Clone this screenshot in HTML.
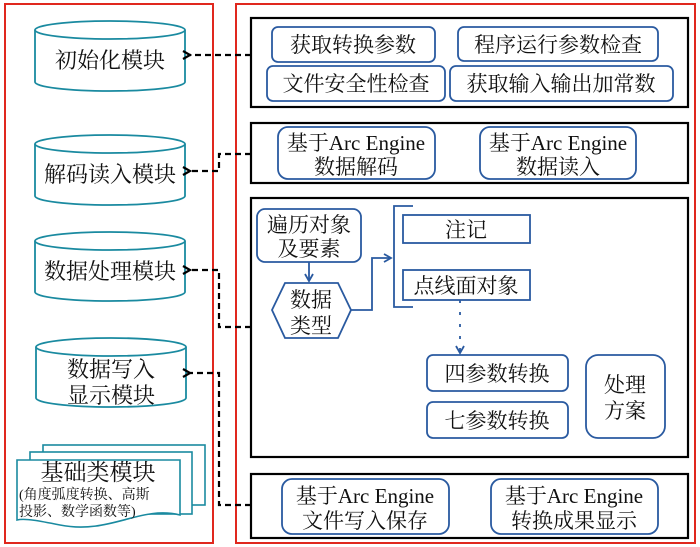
<!DOCTYPE html>
<html><head><meta charset="utf-8"><style>
html,body{margin:0;padding:0;background:#fff;}
svg{display:block;}
text{font-family:"Liberation Serif","Noto Serif CJK SC","WenQuanYi Zen Hei",serif;fill:#111;}
</style></head><body>
<svg width="700" height="547" viewBox="0 0 700 547" xmlns="http://www.w3.org/2000/svg">
<defs>
<marker id="ab" markerWidth="10" markerHeight="10" refX="2" refY="5" orient="auto" markerUnits="userSpaceOnUse">
<path d="M9,1 L2,5 L9,9" fill="none" stroke="#000" stroke-width="2.2"/></marker>
<marker id="bl" markerWidth="10" markerHeight="10" refX="8" refY="5" orient="auto" markerUnits="userSpaceOnUse">
<path d="M1,1 L8,5 L1,9" fill="none" stroke="#2a5aa0" stroke-width="1.8"/></marker>
</defs>
<rect x="5" y="4" width="208" height="539" fill="none" stroke="#e0281e" stroke-width="2"/>
<rect x="236" y="4" width="459" height="539" fill="none" stroke="#e0281e" stroke-width="2"/>

<g fill="#fff" stroke="#1a8aa0" stroke-width="1.8">
<path d="M35,30 V82 A75,9 0 0 0 185,82 V30"/><ellipse cx="110" cy="30" rx="75" ry="9"/>
<path d="M35,144 V196 A75,9 0 0 0 185,196 V144"/><ellipse cx="110" cy="144" rx="75" ry="9"/>
<path d="M35,241 V292 A75,9 0 0 0 185,292 V241"/><ellipse cx="110" cy="241" rx="75" ry="9"/>
<path d="M36,347 V398 A75,9 0 0 0 186,398 V347"/><ellipse cx="111" cy="347" rx="75" ry="9"/>
</g>
<g font-size="22" text-anchor="middle">
<text x="110" y="68">初始化模块</text>
<text x="110" y="182">解码读入模块</text>
<text x="110" y="279">数据处理模块</text>
<text x="111" y="377">数据写入</text>
<text x="111" y="403">显示模块</text>
</g>
<g fill="#fff" stroke="#1a8aa0" stroke-width="1.6">
<rect x="43" y="445" width="162" height="60"/>
<rect x="30" y="452" width="162" height="62"/>
<path d="M17,460 H180 V515 C140,505 110,535 60,525 C40,521 25,518 17,520 Z"/>
</g>
<text x="98" y="480" font-size="23" text-anchor="middle">基础类模块</text>
<text x="19" y="499" font-size="14">(角度弧度转换、高斯</text>
<text x="19" y="516" font-size="14">投影、数学函数等)</text>

<g fill="none" stroke="#000" stroke-width="2.2" stroke-dasharray="6,4">
<path d="M251,55 H190" marker-end="url(#ab)"/>
<path d="M251,154 H219 V171 H190" marker-end="url(#ab)"/>
<path d="M251,327 H219 V270 H190" marker-end="url(#ab)"/>
<path d="M251,505 H219 V373 H190" marker-end="url(#ab)"/>
</g>

<g fill="none" stroke="#000" stroke-width="2.2">
<rect x="251" y="18" width="437" height="89"/>
<rect x="251" y="123" width="437" height="60"/>
<rect x="251" y="198" width="437" height="259"/>
<rect x="251" y="474" width="437" height="64"/>
</g>

<g fill="#fff" stroke="#2a5aa0" stroke-width="1.8">
<rect x="272" y="27" width="163" height="35" rx="6"/>
<rect x="458" y="27" width="200" height="34" rx="6"/>
<rect x="267" y="66" width="178" height="35" rx="6"/>
<rect x="450" y="66" width="223" height="35" rx="6"/>
<rect x="278" y="127" width="157" height="52" rx="10"/>
<rect x="480" y="127" width="156" height="52" rx="10"/>
<rect x="282" y="479" width="167" height="55" rx="10"/>
<rect x="491" y="479" width="167" height="55" rx="10"/>
<rect x="257" y="209" width="104" height="53" rx="8"/>
<polygon points="272,310 285,283 338,283 351,310 338,338 285,338"/>
<rect x="403" y="215" width="127" height="28"/>
<rect x="403" y="270" width="127" height="30"/>
<rect x="427" y="355" width="141" height="36" rx="6"/>
<rect x="427" y="402" width="141" height="36" rx="6"/>
<rect x="586" y="355" width="79" height="83" rx="12"/>
</g>
<g font-size="21" text-anchor="middle">
<text x="353" y="52">获取转换参数</text>
<text x="558" y="52">程序运行参数检查</text>
<text x="356" y="91">文件安全性检查</text>
<text x="561" y="91">获取输入输出加常数</text>
<text x="356" y="150">基于Arc Engine</text>
<text x="356" y="174">数据解码</text>
<text x="558" y="150">基于Arc Engine</text>
<text x="558" y="174">数据读入</text>
<text x="365" y="503">基于Arc Engine</text>
<text x="365" y="528">文件写入保存</text>
<text x="574" y="503">基于Arc Engine</text>
<text x="574" y="528">转换成果显示</text>
<text x="309" y="232">遍历对象</text>
<text x="309" y="256">及要素</text>
<text x="311" y="307">数据</text>
<text x="311" y="333">类型</text>
<text x="466" y="237">注记</text>
<text x="466" y="293">点线面对象</text>
<text x="497" y="381">四参数转换</text>
<text x="497" y="428">七参数转换</text>
<text x="625" y="392">处理</text>
<text x="625" y="418">方案</text>
</g>
<g fill="none" stroke="#2a5aa0" stroke-width="1.8">
<path d="M309,262 V281" marker-end="url(#bl)"/>
<path d="M351,310 H372 V258 H391" marker-end="url(#bl)"/>
<path d="M413,206 H394 V307 H413"/>
<path d="M460,300 V353" stroke-dasharray="3,9" marker-end="url(#bl)"/>
</g>
</svg>
</body></html>
